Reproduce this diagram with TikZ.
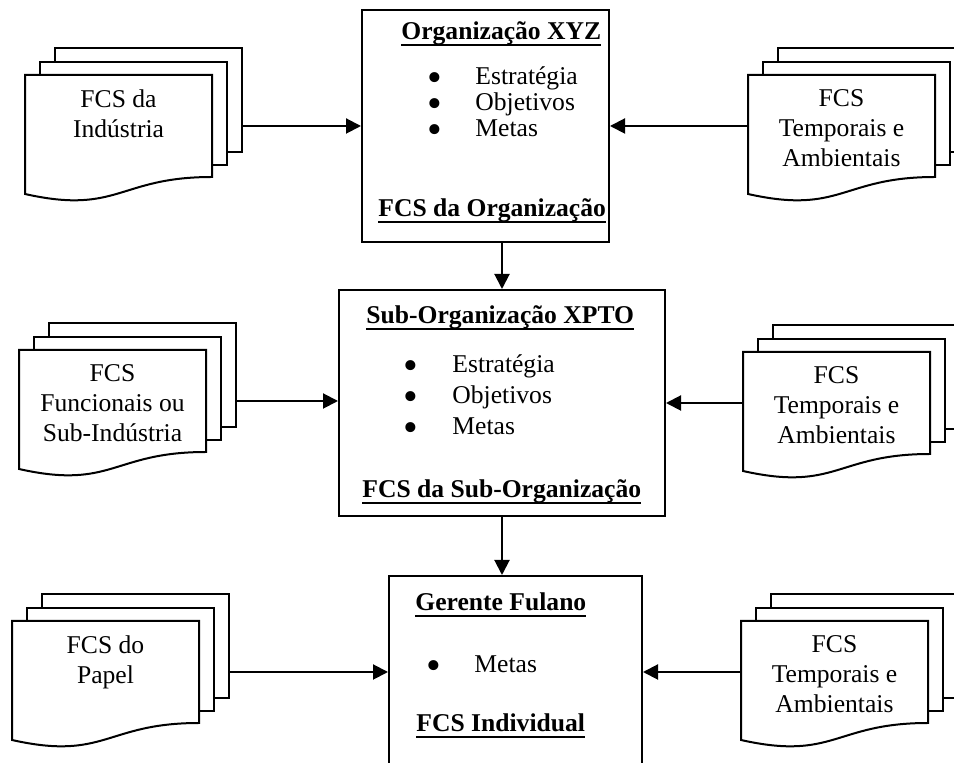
\documentclass[tikz,border=0pt]{standalone}
\usepackage{fontspec}
\setmainfont{Liberation Serif}
\usetikzlibrary{arrows.meta}

% bold text with a heavy underline
\newcommand\ulbf[1]{\setbox0\hbox{\bfseries #1}\rlap{\rule[-3.2pt]{\wd0}{1.2pt}}\box0}

% stack of three pages; #1 name, #2/#3 top-left corner of the front page, #4 text
\newcommand\docstack[4]{%
  \begin{scope}[shift={(#2,#3)}]
    \draw[page] (30,-27) rectangle (217,77);
    \draw[page] (15,-13) rectangle (202,90);
    \draw[page] (0,0) -- (187,0) -- (187,102)
      .. controls (93.5,102) and (93.5,140) .. (0,119) -- cycle;
    \node[doctext] (#1) at (93.5,14) {#4};
    \coordinate (#1-in) at (0,51);
    \coordinate (#1-out) at (217,51);
  \end{scope}}

\tikzset{
  page/.style={draw, line width=1pt, fill=white, line join=miter},
  box/.style={draw, line width=1pt, fill=white, inner sep=0pt},
  arr/.style={line width=1pt, -{Triangle[length=7.5pt,width=7.5pt]}},
  doctext/.style={align=center, inner sep=0pt, anchor=north,
    font=\fontsize{12.8}{15}\selectfont},
  txt/.style={inner sep=0pt, anchor=base west, font=\fontsize{12.8}{15}\selectfont},
  ttl/.style={inner sep=0pt, anchor=base west, font=\fontsize{12.8}{15}\selectfont},
  bul/.style={inner sep=0pt, anchor=center, font=\fontsize{21}{21}\selectfont},
}

\begin{document}
\begin{tikzpicture}[x=0.5pt, y=-0.5pt]
\useasboundingbox (0,0) rectangle (954,763);
\begin{scope}
\clip (0,0) rectangle (954,763);

% main boxes
\node[box, minimum width=123.5pt, minimum height=116pt] (org) at (485.5,126) {};
\node[box, minimum width=163pt, minimum height=113pt] (sub) at (502,403) {};
\node[box, minimum width=126.5pt, minimum height=96pt] (ind) at (515.5,672) {};

% organisation
\node[ttl] (orgT) at (401,40) {\ulbf{Organização XYZ}};
\node[bul] (orgB1) at (435,82) {•};
\node[bul] (orgB2) at (435,108) {•};
\node[bul] (orgB3) at (435,134) {•};
\node[txt] (orgL1) at (475,85) {Estratégia};
\node[txt] (orgL2) at (475,111) {Objetivos};
\node[txt] (orgL3) at (475,137) {Metas};
\node[ttl] (orgF) at (378,217) {\ulbf{FCS da Organização}};

% sub-organisation
\node[ttl] (subT) at (366,324) {\ulbf{Sub-Organização XPTO}};
\node[bul] (subB1) at (411,370) {•};
\node[bul] (subB2) at (411,401) {•};
\node[bul] (subB3) at (411,432) {•};
\node[txt] (subL1) at (452,373) {Estratégia};
\node[txt] (subL2) at (452,404) {Objetivos};
\node[txt] (subL3) at (452,435) {Metas};
\node[ttl] (subF) at (362,498) {\ulbf{FCS da Sub-Organização}};

% individual manager
\node[ttl] (indT) at (415,611) {\ulbf{Gerente Fulano}};
\node[bul] (indB1) at (434,670) {•};
\node[txt] (indL1) at (474,673) {Metas};
\node[ttl] (indF) at (416,732) {\ulbf{FCS Individual}};

% document stacks
\docstack{L1}{25}{75}{FCS da\\Indústria}
\docstack{L2}{19}{350}{FCS\\Funcionais ou\\Sub-Indústria}
\docstack{L3}{12}{621}{FCS do\\Papel}
\docstack{R1}{748}{75}{FCS\\Temporais e\\Ambientais}
\docstack{R2}{743}{352}{FCS\\Temporais e\\Ambientais}
\docstack{R3}{741}{621}{FCS\\Temporais e\\Ambientais}

% connectors
\draw[arr] (org.south -| sub.north) -- (sub.north);
\draw[arr] (sub.south) -- (sub.south |- ind.north);
\draw[arr] (L1-out) -- (L1-out -| org.west);
\draw[arr] (L2-out) -- (L2-out -| sub.west);
\draw[arr] (L3-out) -- (L3-out -| ind.west);
\draw[arr] (R1-in) -- (R1-in -| org.east);
\draw[arr] (R2-in) -- (R2-in -| sub.east);
\draw[arr] (R3-in) -- (R3-in -| ind.east);
\end{scope}
\end{tikzpicture}
\end{document}
